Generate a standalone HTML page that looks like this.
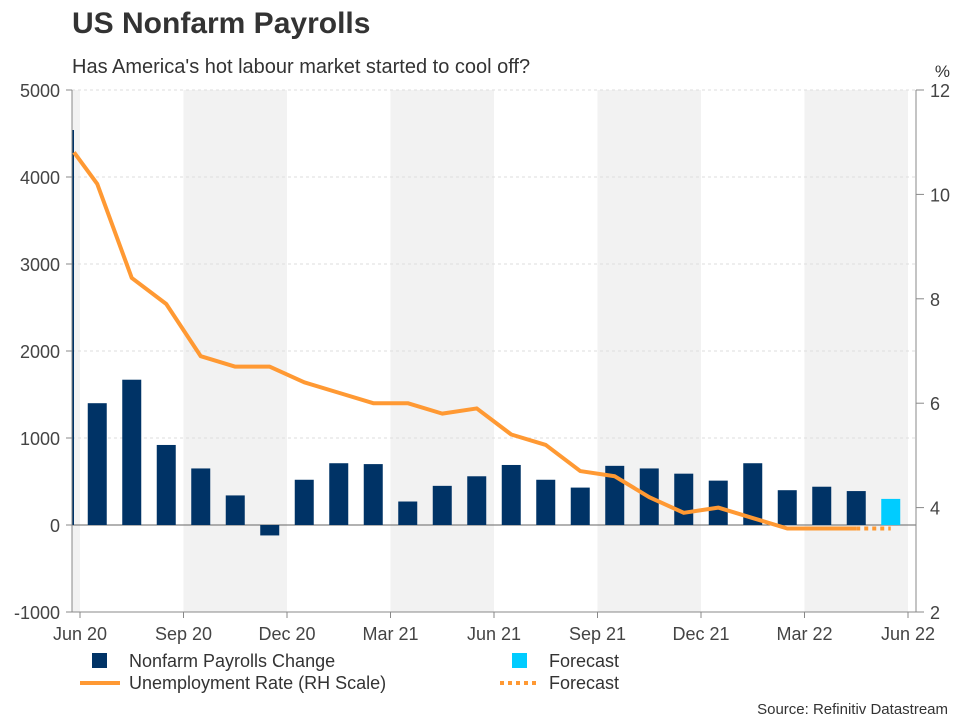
<!DOCTYPE html>
<html><head><meta charset="utf-8"><style>
body{margin:0;background:#fff;font-family:"Liberation Sans",Arial,sans-serif}
svg text{font-family:"Liberation Sans",Arial,sans-serif}
</style></head><body>
<svg id="c" width="960" height="720">
<text x="72" y="33" font-size="30" font-weight="bold" fill="#333">US Nonfarm Payrolls</text>
<text x="72" y="73" font-size="20" fill="#333">Has America's hot labour market started to cool off?</text>
<text x="950" y="77" font-size="17" fill="#333" text-anchor="end">%</text>
<g id="bands"></g><g id="grid"></g><g id="bars"></g><g id="lines"></g><g id="axes"></g>
<g>
<rect x="92" y="653" width="15" height="15" fill="#003366"/>
<text x="129" y="667" font-size="18" fill="#333">Nonfarm Payrolls Change</text>
<rect x="512" y="653" width="15" height="15" fill="#00ccff"/>
<text x="549" y="667" font-size="18" fill="#333">Forecast</text>
<line x1="80" y1="683" x2="120" y2="683" stroke="#ff9933" stroke-width="4"/>
<text x="129" y="689" font-size="18" fill="#333">Unemployment Rate (RH Scale)</text>
<line x1="500" y1="683" x2="540" y2="683" stroke="#ff9933" stroke-width="4" stroke-dasharray="4,4"/>
<text x="549" y="689" font-size="18" fill="#333">Forecast</text>
</g>
<text x="948" y="714" font-size="15" fill="#333" text-anchor="end">Source: Refinitiv Datastream</text>
</svg>
<script>
const payrolls=[1400,1670,920,650,340,-120,520,710,700,270,450,560,690,520,430,680,650,590,510,710,400,440,390];
const forecastPayroll=300;
const unemployment=[11.1,10.2,8.4,7.9,6.9,6.7,6.7,6.4,6.2,6.0,6.0,5.8,5.9,5.4,5.2,4.7,4.6,4.2,3.9,4.0,3.8,3.6,3.6,3.6];
const forecastUnemp=3.6;
const leftTicks=[-1000,0,1000,2000,3000,4000,5000];
const rightTicks=[2,4,6,8,10,12];
const xLabels=['Jun 20','Sep 20','Dec 20','Mar 21','Jun 21','Sep 21','Dec 21','Mar 22','Jun 22'];
const NS='http://www.w3.org/2000/svg';
const L=72,R=916,T=90,B=612,X0=80,MW=34.5;
const yL=v=>T+(5000-v)*(B-T)/6000;
const yR=v=>T+(12-v)*(B-T)/10;
const xm=i=>X0+MW*i;
const xb=i=>X0+MW*(i+0.5);
function mk(p,t,a){const e=document.createElementNS(NS,t);for(const k in a)e.setAttribute(k,a[k]);document.getElementById(p).appendChild(e);return e;}
let b=mk('bands','rect',{x:L,y:T,width:X0-L,height:B-T,fill:'#f2f2f2'});


for(let q=1;q<8;q+=2){const e=mk('bands','rect',{x:xm(q*3),y:T,width:MW*3,height:B-T,fill:'#f2f2f2'});

}
leftTicks.forEach(v=>{const g=mk('grid','line',{x1:L,x2:R,y1:yL(v),y2:yL(v),stroke:v===0?'#666':'#ddd','stroke-width':1,'stroke-dasharray':v===0?'':'3,3'});


const t=mk('axes','text',{x:L-12,y:yL(v)+7,'font-size':18,fill:'#444','text-anchor':'end'});t.textContent=v;


mk('axes','line',{x1:L-6,x2:L,y1:yL(v),y2:yL(v),stroke:'#888'});});
rightTicks.forEach(v=>{const t=mk('axes','text',{x:R+14,y:yR(v)+7,'font-size':18,fill:'#444'});t.textContent=v;


mk('axes','line',{x1:R,x2:R+8,y1:yR(v),y2:yR(v),stroke:'#888'});});
mk('axes','line',{x1:L,x2:L,y1:T,y2:B,stroke:'#888'});
mk('axes','line',{x1:R,x2:R,y1:T,y2:B,stroke:'#888'});
mk('axes','line',{x1:L,x2:R,y1:B,y2:B,stroke:'#888'});
xLabels.forEach((s,i)=>{const x=xm(i*3);mk('axes','line',{x1:x,x2:x,y1:B,y2:B+6,stroke:'#888'});
const t=mk('axes','text',{x:x,y:B+28,'font-size':18,fill:'#444','text-anchor':'middle'});t.textContent=s;

});
mk('bars','line',{x1:L+1,x2:L+1,y1:yL(4540),y2:yL(0),stroke:'#003366','stroke-width':2});
payrolls.forEach((v,i)=>{const y0=yL(0),y=yL(v);const r=mk('bars','rect',{x:xb(i)-9.5,y:Math.min(y,y0),width:19,height:Math.abs(y0-y),fill:'#003366'});

});
{const n=payrolls.length,y0=yL(0),y=yL(forecastPayroll);const r=mk('bars','rect',{x:xb(n)-9.5,y:Math.min(y,y0),width:19,height:Math.abs(y0-y),fill:'#00ccff'});

}
const pts=unemployment.map((v,i)=>[xb(i-1),yR(v)]);
const [ax,ay]=pts[0],[bx,by]=pts[1];const cy=ay+(by-ay)*(L+2-ax)/(bx-ax);pts[0]=[L+2,cy];
const pl=mk('lines','polyline',{points:pts.map(p=>p.join(',')).join(' '),fill:'none',stroke:'#ff9933','stroke-width':4,'stroke-linejoin':'round'});


const last=pts[pts.length-1];
const fl=mk('lines','line',{x1:last[0],y1:last[1],x2:xb(payrolls.length),y2:yR(forecastUnemp),stroke:'#ff9933','stroke-width':4,'stroke-dasharray':'4,4'});


</script>
</body></html>
